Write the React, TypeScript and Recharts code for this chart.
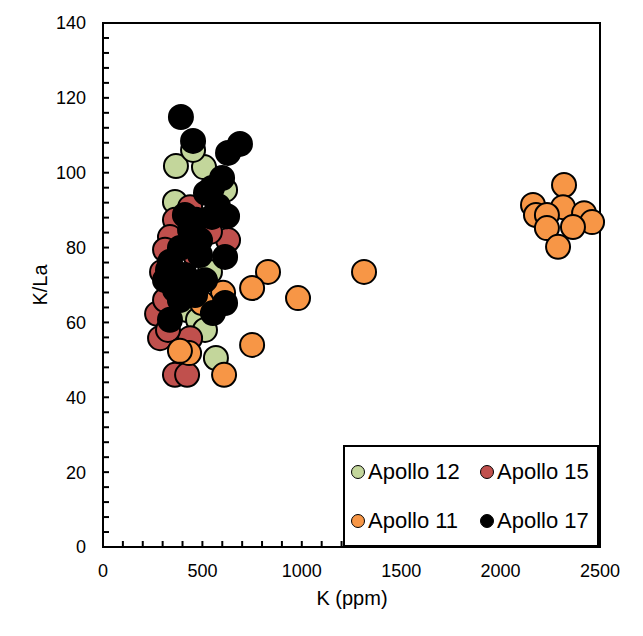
import { Legend, ReferenceArea, Scatter, ScatterChart, XAxis, YAxis } from "recharts";

type Pt = { k: number; kla: number };

const apollo12: Pt[] = [
  { k: 367, kla: 101.8 }, { k: 508, kla: 101.5 }, { k: 453, kla: 106.1 }, { k: 362, kla: 92.2 },
  { k: 614, kla: 95.4 }, { k: 538, kla: 73.5 }, { k: 423, kla: 63.3 }, { k: 478, kla: 60.7 },
  { k: 513, kla: 58.0 }, { k: 568, kla: 50.5 }, { k: 380, kla: 72.0 },
];

const apollo15: Pt[] = [
  { k: 362, kla: 46.0 }, { k: 423, kla: 46.0 }, { k: 287, kla: 55.8 }, { k: 438, kla: 55.8 },
  { k: 272, kla: 62.3 }, { k: 327, kla: 58.0 }, { k: 312, kla: 66.0 }, { k: 297, kla: 73.5 },
  { k: 362, kla: 87.4 }, { k: 337, kla: 82.8 }, { k: 438, kla: 90.8 }, { k: 629, kla: 82.0 },
  { k: 397, kla: 68.7 }, { k: 463, kla: 78.0 }, { k: 538, kla: 84.2 }, { k: 312, kla: 79.4 },
];

const apollo11: Pt[] = [
  { k: 2163, kla: 91.4 }, { k: 2319, kla: 96.7 }, { k: 2314, kla: 90.8 }, { k: 2178, kla: 88.7 },
  { k: 2233, kla: 88.7 }, { k: 2420, kla: 89.2 }, { k: 2460, kla: 86.8 }, { k: 2364, kla: 85.5 },
  { k: 2233, kla: 85.2 }, { k: 2289, kla: 80.2 }, { k: 1313, kla: 73.5 }, { k: 981, kla: 66.5 },
  { k: 830, kla: 73.5 }, { k: 750, kla: 69.2 }, { k: 750, kla: 54.0 }, { k: 609, kla: 46.0 },
  { k: 604, kla: 67.9 }, { k: 498, kla: 65.2 }, { k: 433, kla: 51.8 }, { k: 387, kla: 52.4 },
];

const apollo17: Pt[] = [
  { k: 392, kla: 114.9 }, { k: 453, kla: 108.5 }, { k: 689, kla: 107.7 }, { k: 629, kla: 105.3 },
  { k: 599, kla: 98.6 }, { k: 548, kla: 95.9 }, { k: 518, kla: 94.6 }, { k: 578, kla: 91.1 },
  { k: 624, kla: 88.4 }, { k: 548, kla: 88.2 }, { k: 468, kla: 87.4 }, { k: 412, kla: 88.7 },
  { k: 438, kla: 84.7 }, { k: 488, kla: 82.0 }, { k: 614, kla: 77.5 }, { k: 387, kla: 79.9 },
  { k: 488, kla: 78.0 }, { k: 337, kla: 76.2 }, { k: 327, kla: 74.0 }, { k: 412, kla: 72.7 },
  { k: 513, kla: 71.3 }, { k: 312, kla: 71.3 }, { k: 362, kla: 68.7 }, { k: 387, kla: 66.0 },
  { k: 337, kla: 60.7 }, { k: 614, kla: 65.2 }, { k: 553, kla: 62.5 }, { k: 463, kla: 67.3 },
];

const xTicks = [0, 100, 200, 300, 400, 500, 600, 700, 800, 900, 1000, 1100, 1200, 1300, 1400, 1500,
  1600, 1700, 1800, 1900, 2000, 2100, 2200, 2300, 2400, 2500];
const xMajor = [0, 500, 1000, 1500, 2000, 2500];
const yTicks = [0, 4, 8, 12, 16, 20, 24, 28, 32, 36, 40, 44, 48, 52, 56, 60, 64, 68, 72, 76, 80,
  84, 88, 92, 96, 100, 104, 108, 112, 116, 120, 124, 128, 132, 136, 140];
const yMajor = [0, 20, 40, 60, 80, 100, 120, 140];

const series = [
  { name: "Apollo 12", data: apollo12, color: "#C3D69B" },
  { name: "Apollo 15", data: apollo15, color: "#C0504D" },
  { name: "Apollo 11", data: apollo11, color: "#F79646" },
  { name: "Apollo 17", data: apollo17, color: "#000000" },
];

const font = "'Liberation Sans', Arial, sans-serif";

const XTick = (props: any) => {
  const { x, y, payload } = props;
  const major = xMajor.includes(payload.value);
  return (
    <g>
      <line x1={x} x2={x} y1={y} y2={y - 6} stroke="#000" strokeWidth={2} />
      {major && (
        <text x={x} y={y + 30} textAnchor="middle" fontSize={18} fontFamily={font} fill="#000">
          {payload.value}
        </text>
      )}
    </g>
  );
};

const YTick = (props: any) => {
  const { x, y, payload } = props;
  const major = yMajor.includes(payload.value);
  return (
    <g>
      <line x1={x} x2={x + 6} y1={y} y2={y} stroke="#000" strokeWidth={2} />
      {major && (
        <text x={x - 17} y={y} dy="0.36em" textAnchor="end" fontSize={18} fontFamily={font} fill="#000">
          {payload.value}
        </text>
      )}
    </g>
  );
};

const Dot = (color: string) => (props: any) => (
  <circle cx={props.cx} cy={props.cy} r={12} fill={color} stroke="#000" strokeWidth={2} />
);

const LegendBox = () => (
  <div
    style={{
      position: "relative",
      width: 256,
      height: 102,
      boxSizing: "border-box",
      border: "2px solid #000",
      background: "#fff",
      fontFamily: font,
      fontSize: 22,
      color: "#000",
    }}
  >
    {series.map((s, i) => {
      const col = i % 2;
      const row = Math.floor(i / 2);
      const cx = col === 0 ? 15 : 144;
      const cy = row === 0 ? 27 : 76;
      return (
        <div key={s.name}>
          <div
            style={{
              position: "absolute",
              left: cx - 2 - 7,
              top: cy - 2 - 7,
              width: 14,
              height: 14,
              borderRadius: "50%",
              boxSizing: "border-box",
              border: "1.5px solid #000",
              background: s.color,
            }}
          />
          <div style={{ position: "absolute", left: cx - 2 + 10, top: cy - 2 - 13, lineHeight: "26px", whiteSpace: "nowrap" }}>
            {s.name}
          </div>
        </div>
      );
    })}
  </div>
);

export default function App() {
  return (
    <ScatterChart width={627} height={620} margin={{ top: 15, right: 35, bottom: 21, left: 15 }}>
      <XAxis
        type="number"
        dataKey="k"
        domain={[0, 2500]}
        ticks={xTicks}
        interval={0}
        height={60}
        tickSize={0}
        tickMargin={0}
        tickLine={false}
        tick={<XTick />}
        axisLine={{ stroke: "#000", strokeWidth: 2 }}
        label={{
          content: () => (
            <text x={344} y={597} textAnchor="middle" fontSize={20} fontFamily={font} fill="#000">
              K (ppm)
            </text>
          ),
        }}
      />
      <YAxis
        type="number"
        dataKey="kla"
        domain={[0, 140]}
        ticks={yTicks}
        interval={0}
        width={80}
        tickSize={0}
        tickMargin={0}
        tickLine={false}
        tick={<YTick />}
        axisLine={{ stroke: "#000", strokeWidth: 2 }}
        label={{
          content: () => (
            <text
              x={32}
              y={277}
              transform="rotate(-90, 32, 277)"
              textAnchor="middle"
              dy="0.36em"
              fontSize={20}
              fontFamily={font}
              fill="#000"
            >
              K/La
            </text>
          ),
        }}
      />
      {series.map((s) => (
        <Scatter
          key={s.name}
          name={s.name}
          data={s.data}
          fill={s.color}
          shape={Dot(s.color)}
          isAnimationActive={false}
        />
      ))}
      <ReferenceArea
        x1={0}
        x2={2500}
        y1={0}
        y2={140}
        fill="none"
        stroke="#000"
        strokeWidth={2}
        ifOverflow="visible"
      />
      <Legend
        layout="vertical"
        align="center"
        verticalAlign="middle"
        wrapperStyle={{ left: 335, top: 437, width: 256, height: 102 }}
        content={() => <LegendBox />}
      />
    </ScatterChart>
  );
}
